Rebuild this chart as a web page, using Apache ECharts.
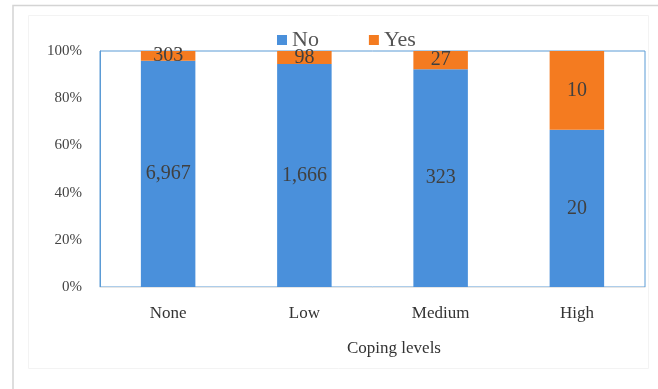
<!DOCTYPE html>
<html>
<head>
<meta charset="utf-8">
<script src="https://cdn.jsdelivr.net/npm/echarts@6/dist/echarts.min.js"></script>
<style>
  html, body { margin: 0; padding: 0; background: #ffffff; }
  #chart { width: 658px; height: 389px; }
</style>
</head>
<body>
<div id="chart"></div>
<script>
// Coping levels and the counts of respondents answering No / Yes
const categories = ['None', 'Low', 'Medium', 'High'];
const noCounts = [6967, 1666, 323, 20];
const yesCounts = [303, 98, 27, 10];
const yTicks = [0, 20, 40, 60, 80, 100];

const totals = categories.map((_, i) => noCounts[i] + yesCounts[i]);
const toShare = (arr) => arr.map((v, i) => ({ value: v / totals[i] * 100, count: v }));
const fmtCount = (p) => p.data.count.toLocaleString('en-US');

const serif = 'Liberation Serif';
const labelStyle = {
  show: true,
  position: 'inside',
  formatter: fmtCount,
  fontFamily: serif,
  fontSize: 20,
  color: '#404040'
};

const chart = echarts.init(document.getElementById('chart'), null, { renderer: 'canvas' });
chart.setOption({
  animation: false,
  backgroundColor: '#ffffff',
  graphic: [
    // outer frame (top and left edges)
    { type: 'polyline', shape: { points: [[13, 389], [13, 5.5], [658, 5.5]] },
      style: { stroke: '#d4d4d4', fill: null, lineWidth: 1.5 }, z: -10 },
    // faint chart-area box
    { type: 'rect', shape: { x: 28.5, y: 15.5, width: 620, height: 353 },
      style: { stroke: '#f3f3f3', fill: null, lineWidth: 1 }, z: -10 },
    // x-axis title
    { type: 'text', left: 347, top: 340,
      style: { text: 'Coping levels', font: '17px "Liberation Serif"', fill: '#333333' } }
  ],
  legend: {
    left: 272,
    top: 24,
    itemWidth: 10,
    itemHeight: 10,
    itemGap: 50,
    icon: 'rect',
    textStyle: { fontFamily: serif, fontSize: 22, color: '#555555' },
    data: ['No', 'Yes']
  },
  grid: {
    left: 100, right: 13, top: 51, bottom: 102,
    show: true,
    borderColor: '#5b9bd5',
    borderWidth: 1,
    containLabel: false
  },
  xAxis: {
    type: 'category',
    data: categories,
    axisLine: { show: true, lineStyle: { color: '#e6e6e6', width: 1 } },
    axisTick: { show: false },
    axisLabel: { fontFamily: serif, fontSize: 17, color: '#333333', margin: 18 }
  },
  yAxis: {
    type: 'value',
    min: yTicks[0],
    max: yTicks[yTicks.length - 1],
    interval: yTicks[1] - yTicks[0],
    axisLine: { show: true, lineStyle: { color: '#5b9bd5', width: 1 } },
    axisTick: { show: false },
    splitLine: { show: false },
    axisLabel: { formatter: '{value}%', fontFamily: serif, fontSize: 15, color: '#444444', margin: 18 }
  },
  series: [
    {
      name: 'No', type: 'bar', stack: 'share', barWidth: '40%',
      itemStyle: { color: '#4a90db' },
      label: labelStyle,
      data: toShare(noCounts)
    },
    {
      name: 'Yes', type: 'bar', stack: 'share', barWidth: '40%',
      itemStyle: { color: '#f47b20' },
      label: labelStyle,
      data: toShare(yesCounts)
    }
  ]
});
</script>
</body>
</html>
